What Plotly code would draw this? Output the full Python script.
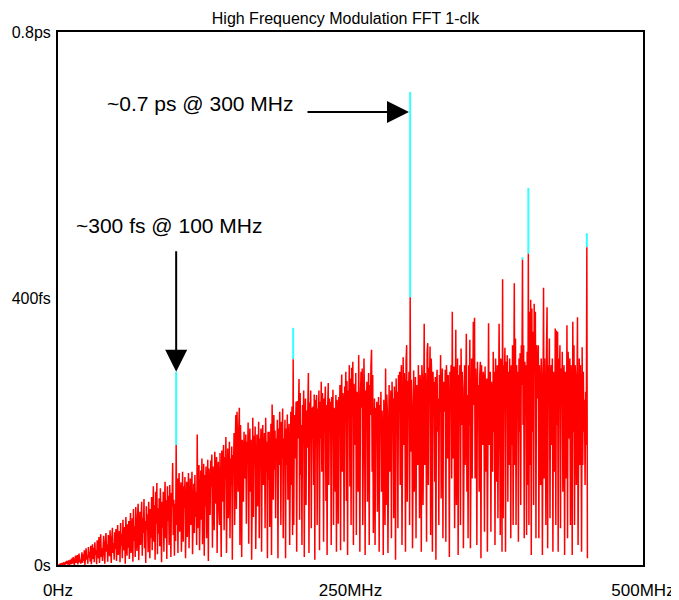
import plotly.graph_objects as go

# Jitter spectrum (fs), sampled every 0.5 MHz from 0 MHz (one row = 10 MHz)
red_fs = [
    0, 0, 1, 0, 2, 0, 1, 3, 0, 2, 4, 1, 0, 5, 2, 6, 1, 3, 7, 0,
    4, 8, 1, 6, 10, 2, 12, 5, 0, 9, 14, 3, 7, 15, 1, 11, 17, 4, 8, 2,
    13, 19, 3, 16, 6, 22, 0, 18, 25, 8, 14, 2, 27, 11, 20, 5, 29, 1, 24, 31,
    9, 26, 4, 34, 15, 22, 1, 37, 28, 10, 42, 3, 30, 46, 12, 25, 6, 39, 44, 17,
    2, 35, 48, 20, 31, 5, 45, 38, 13, 52, 27, 3, 41, 56, 18, 33, 8, 49, 24, 54,
    6, 44, 60, 15, 37, 51, 4, 63, 29, 47, 10, 68, 35, 22, 57, 2, 72, 40, 14, 61,
    26, 66, 9, 52, 78, 18, 45, 70, 5, 84, 36, 58, 12, 87, 42, 21, 74, 92, 7, 55,
    80, 30, 62, 95, 14, 71, 48, 99, 25, 66, 3, 88, 53, 76, 19, 95, 60, 10, 84, 41,
    102, 22, 70, 118, 35, 90, 8, 110, 62, 123, 16, 85, 47, 100, 28, 115, 70, 4, 95, 56,
    110, 20, 84, 125, 40, 97, 9, 118, 66, 104, 30, 120, 75, 12, 108, 88, 153, 45, 98, 14,
    92, 36, 180, 60, 130, 18, 112, 138, 50, 95, 124, 20, 108, 140, 35, 118, 86, 132, 10, 101,
    125, 42, 96, 138, 25, 115, 130, 60, 88, 140, 16, 104, 122, 48, 135, 72, 110, 30, 196, 55,
    126, 150, 22, 115, 142, 68, 160, 31, 120, 152, 14, 135, 88, 148, 40, 128, 158, 6, 145, 97,
    75, 157, 118, 166, 26, 148, 120, 52, 170, 130, 92, 162, 18, 140, 155, 84, 60, 168, 110, 12,
    172, 95, 148, 180, 52, 162, 130, 192, 18, 150, 175, 70, 138, 185, 40, 160, 120, 178, 8, 165,
    140, 198, 60, 183, 225, 84, 230, 170, 110, 205, 236, 30, 210, 150, 12, 188, 172, 95, 200, 130,
    150, 196, 62, 185, 160, 214, 32, 176, 205, 110, 188, 8, 170, 221, 72, 194, 150, 208, 24, 180,
    196, 88, 175, 215, 40, 190, 160, 205, 20, 182, 210, 120, 168, 198, 55, 221, 140, 185, 10, 200,
    128, 200, 57, 176, 212, 15, 241, 186, 98, 225, 143, 202, 70, 190, 168, 218, 10, 205, 150, 230,
    180, 60, 215, 160, 235, 40, 190, 168, 218, 10, 205, 150, 226, 98, 188, 212, 30, 196, 230, 120,
    238, 45, 309, 60, 225, 160, 212, 245, 20, 246, 190, 225, 279, 68, 258, 135, 210, 30, 240, 205,
    262, 12, 215, 250, 90, 232, 176, 248, 288, 18, 244, 210, 262, 55, 236, 190, 238, 120, 256, 8,
    248, 226, 255, 60, 235, 210, 262, 22, 245, 190, 275, 140, 258, 230, 35, 250, 232, 268, 96, 240,
    15, 238, 273, 120, 250, 205, 245, 30, 252, 190, 263, 60, 236, 226, 110, 255, 20, 248, 232, 62,
    252, 210, 270, 22, 245, 286, 140, 258, 246, 35, 268, 232, 290, 96, 276, 15, 262, 240, 300, 118,
    280, 60, 296, 250, 305, 30, 272, 210, 180, 288, 45, 260, 230, 110, 315, 205, 20, 252, 290, 236,
    295, 60, 226, 310, 248, 15, 262, 210, 275, 95, 240, 288, 30, 270, 225, 300, 323, 140, 285, 48,
    205, 250, 30, 236, 190, 245, 80, 222, 252, 20, 240, 198, 260, 110, 232, 185, 15, 248, 210, 60,
    295, 90, 256, 230, 18, 248, 270, 140, 238, 262, 40, 275, 220, 250, 70, 268, 235, 8, 280, 210,
    260, 55, 285, 240, 290, 120, 270, 300, 30, 268, 312, 180, 288, 250, 20, 305, 330, 95, 276, 245,
    290, 60, 402, 170, 278, 243, 25, 265, 292, 110, 248, 282, 40, 270, 255, 150, 300, 240, 70, 285,
    262, 20, 300, 278, 90, 305, 362, 150, 288, 240, 35, 318, 333, 120, 296, 260, 328, 45, 310, 275,
    20, 290, 240, 275, 125, 282, 8, 268, 293, 200, 250, 60, 285, 230, 315, 100, 260, 295, 40, 275,
    250, 230, 293, 35, 300, 268, 160, 285, 220, 12, 290, 245, 300, 130, 380, 160, 275, 298, 55, 290,
    353, 90, 270, 310, 15, 285, 240, 300, 60, 325, 210, 290, 265, 25, 280, 300, 150, 295, 347, 110,
    255, 40, 300, 210, 338, 25, 280, 310, 130, 290, 365, 240, 371, 130, 295, 255, 30, 305, 230, 270,
    110, 285, 305, 10, 300, 255, 180, 290, 275, 50, 298, 230, 140, 280, 20, 310, 363, 180, 255, 290,
    50, 275, 240, 140, 320, 200, 290, 30, 310, 260, 125, 300, 70, 280, 362, 240, 45, 310, 270, 20,
    429, 70, 300, 280, 326, 20, 305, 250, 315, 95, 290, 150, 310, 265, 40, 300, 180, 330, 60, 285,
    423, 150, 340, 60, 300, 250, 290, 35, 310, 200, 318, 90, 330, 270, 458, 210, 330, 40, 305, 260,
    300, 45, 320, 120, 467, 60, 380, 150, 398, 15, 385, 200, 350, 90, 392, 300, 380, 40, 330, 290,
    250, 330, 40, 300, 260, 120, 310, 280, 15, 290, 416, 130, 310, 240, 60, 320, 387, 25, 300, 260,
    340, 70, 280, 300, 180, 310, 20, 290, 270, 140, 355, 60, 352, 210, 350, 20, 310, 270, 330, 55,
    295, 240, 320, 110, 280, 300, 15, 290, 250, 130, 360, 40, 320, 280, 190, 310, 60, 300, 265, 15,
    365, 200, 330, 60, 300, 280, 120, 290, 372, 30, 290, 310, 150, 300, 250, 20, 327, 150, 290, 200,
    248, 120, 260, 180, 477, 10,
]
freq_step_mhz = 0.5
red_freq = [i * freq_step_mhz for i in range(len(red_fs))]

# Modulation harmonics (cyan trace peaks)
cyan_freq = [101, 201, 301, 397, 402, 452]
cyan_fs = [290, 356, 710, 462, 566, 498]

x_tickvals = [0, 250, 500]
x_ticktext = ["0Hz", "250MHz", "500MHz"]
y_tickvals = [0, 400, 800]
y_ticktext = ["0s", "400fs", "0.8ps"]

FONT = "Liberation Sans, Arial, Helvetica, sans-serif"

# cyan is only visible above the red trace at each harmonic
cx, cy = [], []
for f, v in zip(cyan_freq, cyan_fs):
    base = red_fs[int(round(f / freq_step_mhz))]
    cx += [f, f, None]
    cy += [base, v, None]

fig = go.Figure()
fig.add_trace(go.Scatter(x=cx, y=cy, mode="lines",
                         line=dict(color="#33FFFF", width=2),
                         hoverinfo="skip", showlegend=False))
fig.add_trace(go.Scatter(x=red_freq, y=red_fs, mode="lines",
                         line=dict(color="#FF0000", width=1.5),
                         showlegend=False))

fig.update_layout(
    width=679, height=600,
    margin=dict(l=50, r=44, t=24, b=43),
    paper_bgcolor="white", plot_bgcolor="white",
    font=dict(family=FONT, color="black", size=17),
    title=dict(text="High Frequency Modulation FFT 1-clk", x=0.497, xanchor="center",
               y=0.983, yanchor="middle", yref="container",
               font=dict(size=16, family=FONT), automargin=False),
    xaxis=dict(range=[0, 500], tickvals=x_tickvals, ticktext=x_ticktext,
               showgrid=False, zeroline=False, showline=True, mirror=True,
               linecolor="black", linewidth=2, ticks="", ticklabelstandoff=9,
               tickfont=dict(size=17, family=FONT), automargin=False),
    yaxis=dict(range=[0, 800], tickvals=y_tickvals, ticktext=y_ticktext,
               showgrid=False, zeroline=False, showline=True, mirror=True,
               linecolor="black", linewidth=2, ticks="", ticklabelstandoff=2,
               tickfont=dict(size=16, family=FONT), automargin=False),
    annotations=[
        dict(x=95, y=509, xref="x", yref="y", text="~300 fs @ 100 MHz",
             showarrow=False, font=dict(size=21, family=FONT),
             xanchor="center", yanchor="middle"),
        dict(x=122, y=693, xref="x", yref="y", text="~0.7 ps @ 300 MHz",
             showarrow=False, font=dict(size=21, family=FONT),
             xanchor="center", yanchor="middle"),
        dict(x=101, y=290, xref="x", yref="y", text="", showarrow=True,
             ax=0, ay=-122, arrowhead=2, arrowsize=2.2, arrowwidth=2,
             arrowcolor="black", standoff=0),
        dict(x=300, y=680, xref="x", yref="y", text="", showarrow=True,
             ax=-103, ay=0, arrowhead=2, arrowsize=2.2, arrowwidth=2,
             arrowcolor="black", standoff=0),
    ],
)

fig.write_html("out.html")
